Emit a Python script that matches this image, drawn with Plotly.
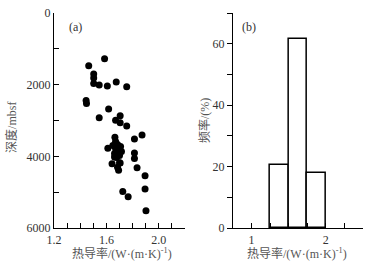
import plotly.graph_objects as go

# Panel (a): thermal conductivity vs depth
conductivity = [1.586, 1.465, 1.503, 1.503, 1.503, 1.545, 1.607, 1.675, 1.755,
                1.445, 1.448, 1.617, 1.545, 1.670, 1.705, 1.705, 1.755,
                1.665, 1.872, 1.814, 1.611, 1.649, 1.670, 1.685, 1.708, 1.670,
                1.692, 1.715, 1.662, 1.700, 1.677, 1.662, 1.700, 1.814, 1.814,
                1.643, 1.705, 1.693, 1.685, 1.834, 1.895, 1.895, 1.725, 1.766, 1.902]
depth = [1280, 1470, 1700, 1815, 1970, 2010, 2040, 1925, 2060,
         2445, 2525, 2680, 2920, 2990, 2870, 3060, 3150,
         3470, 3404, 3515, 3774, 3700, 3589, 3672, 3727, 3782,
         3838, 3865, 3920, 3976, 4031, 4022, 4180, 3907, 4059,
         4205, 4189, 4390, 4307, 4321, 4542, 4915, 4978, 5127, 5522]

# Panel (b): histogram of thermal conductivity
bin_left = [1.25, 1.5, 1.75]
bin_width = [0.25, 0.25, 0.25]
frequency = [20.5, 61.5, 18.0]

FONT = "Liberation Serif, Noto Sans CJK SC"
TXT = "#333333"
TITLE = "#555555"
xtitle = "热导率/(W·(m·K)<sup>-1</sup>)"

fig = go.Figure()
fig.add_trace(go.Scatter(x=conductivity, y=depth, mode="markers",
                         marker=dict(color="black", size=7, line=dict(width=0)),
                         xaxis="x", yaxis="y", showlegend=False, hoverinfo="skip"))
fig.add_trace(go.Bar(x=[b + w / 2 for b, w in zip(bin_left, bin_width)], y=frequency,
                     width=bin_width, marker=dict(color="white", line=dict(color="black", width=1.5)),
                     xaxis="x2", yaxis="y2", showlegend=False, hoverinfo="skip"))

axcommon = dict(showgrid=False, zeroline=False, showline=True, linecolor="black", linewidth=1.2,
                tickcolor="black", ticklen=5, tickwidth=1,
                tickfont=dict(family=FONT, size=12, color=TXT))


def ann(text, x, y, xref, yref, color, angle=0):
    return dict(text=text, x=x, y=y, xref=xref, yref=yref, showarrow=False,
                xanchor="center", yanchor="middle", textangle=angle,
                font=dict(family=FONT, size=12, color=color))


fig.update_layout(
    width=369, height=263,
    margin=dict(l=54, r=6, t=11, b=35),
    paper_bgcolor="white", plot_bgcolor="white",
    font=dict(family=FONT, size=12, color=TXT),
    bargap=0,
    xaxis=dict(domain=[0, 0.424], range=[1.2, 2.2], tickvals=[1.2, 1.6, 2.0],
               ticktext=["1.2", "1.6", "2.0"], ticks="inside",
               minor=dict(dtick=0.1, tick0=1.2, ticks="inside", ticklen=5, tickcolor="black"),
               anchor="y", **axcommon),
    yaxis=dict(domain=[0, 1], range=[6000, 0], tickvals=[0, 2000, 4000, 6000], ticks="inside",
               minor=dict(dtick=1000, tick0=0, ticks="inside", ticklen=5, tickcolor="black"),
               anchor="x", **axcommon),
    xaxis2=dict(domain=[0.579, 1], range=[0.75, 2.5], tickvals=[1, 2], ticks="inside",
                minor=dict(dtick=0.25, tick0=0.75, ticks="inside", ticklen=5, tickcolor="black"),
                anchor="y2", **axcommon),
    yaxis2=dict(domain=[0, 1], range=[0, 70], tickvals=[0, 20, 40, 60], ticks="outside",
                minor=dict(dtick=10, tick0=0, ticks="outside", ticklen=5, tickcolor="black"),
                anchor="x2", **axcommon),
    annotations=[
        ann("(a)", 1.367, 387, "x", "y", TXT),
        ann("(b)", 0.973, 65.5, "x2", "y2", TXT),
        ann("深度/mbsf", -0.136, 0.47, "paper", "paper", TITLE, -90),
        ann("频率/(%)", 0.489, 0.498, "paper", "paper", TITLE, -90),
        ann(xtitle, 0.22, -0.117, "paper", "paper", TITLE),
        ann(xtitle, 0.786, -0.117, "paper", "paper", TITLE),
    ],
)

fig.write_html("out.html", config={"displayModeBar": False},
               post_script="document.body.style.margin='0';")
